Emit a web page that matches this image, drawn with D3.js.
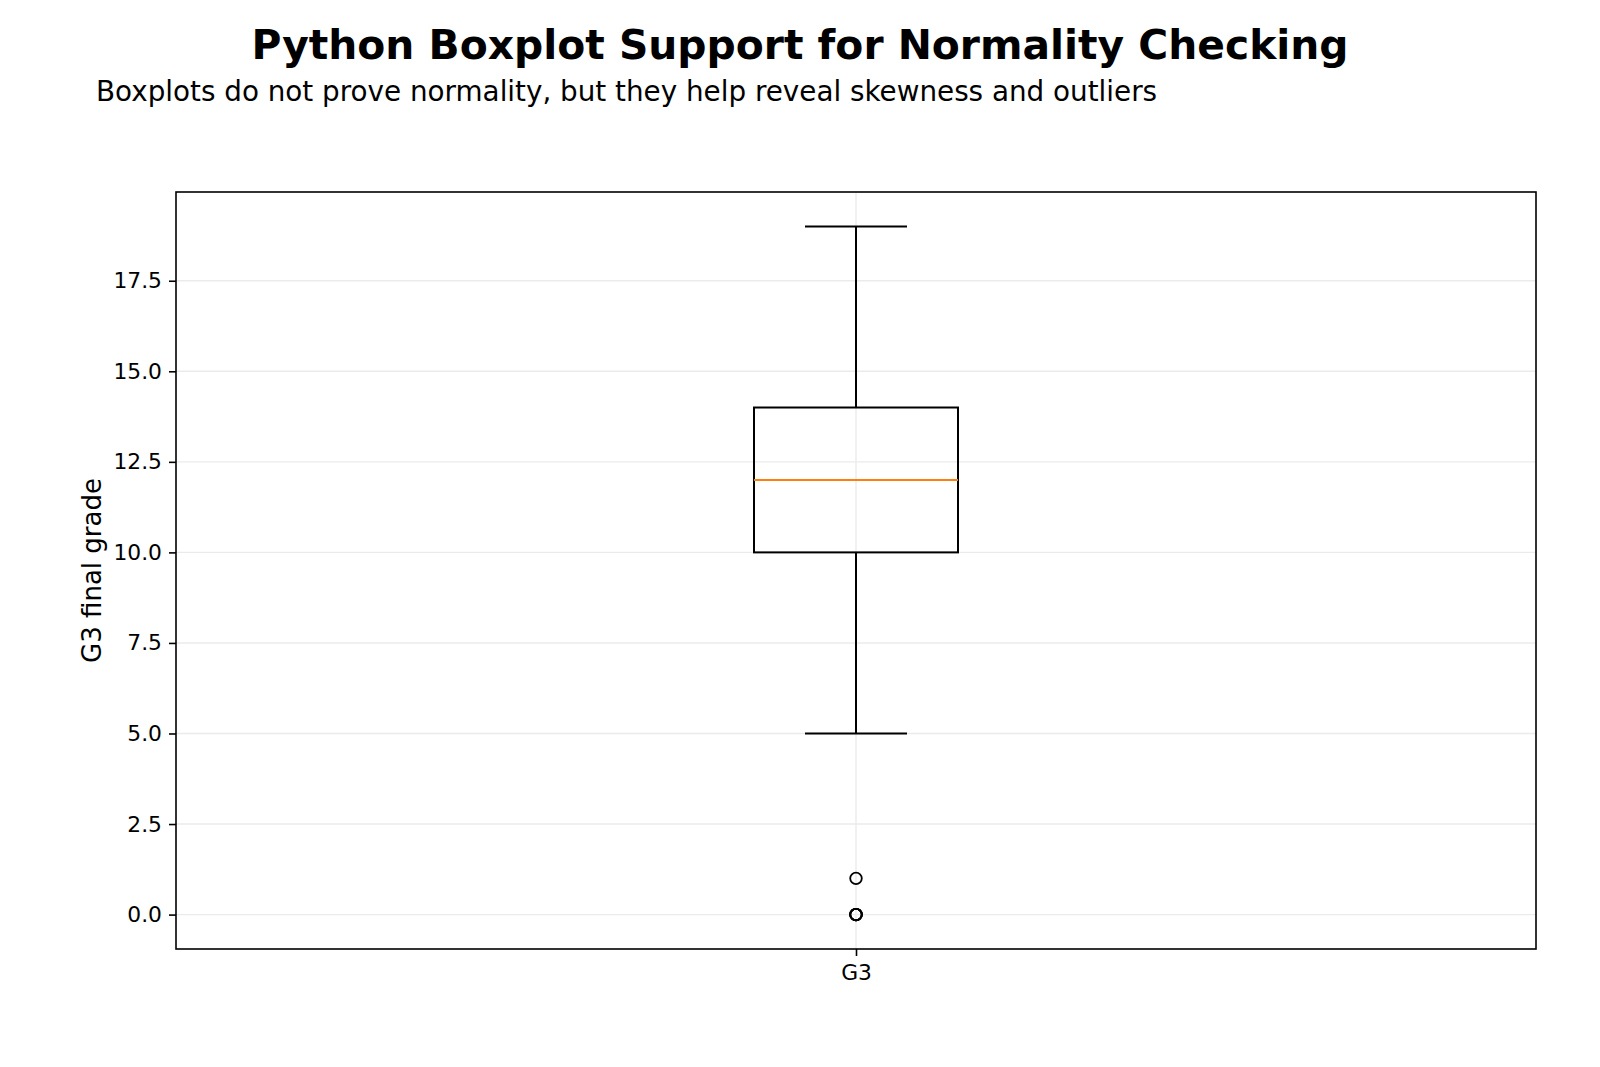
<!DOCTYPE html>
<html>
<head>
<meta charset="utf-8">
<script src="https://cdn.jsdelivr.net/npm/d3@7"></script>
<style>
    body { margin: 0; background: #fff; }
    svg { display: block; font-family: "DejaVu Sans", sans-serif; }
</style>
</head>
<body>
<svg id="chart" width="1600" height="1067"></svg>
<script>
// boxplot summary
const categories = ["G3"];
const whiskerLow = [5];
const q1 = [10];
const median = [12];
const q3 = [14];
const whiskerHigh = [19];
const outliers = [[0, 0, 0, 0, 1]];
const yTicks = [0, 2.5, 5, 7.5, 10, 12.5, 15, 17.5];

const svg = d3.select("#chart");

const margin = { left: 176, top: 192, right: 1536, bottom: 949 };

const y = d3.scaleLinear()
    .domain([-0.95, 19.95])
    .range([margin.bottom, margin.top]);

const x = d3.scaleLinear()
    .domain([0.5, categories.length + 0.5])
    .range([margin.left, margin.right]);

const boxW = x(0.5 + 0.15) - x(0.5);
const capW = boxW / 2;

// titles
svg.append("text")
    .attr("x", 800).attr("y", 59)
    .attr("text-anchor", "middle")
    .style("font-size", "40.8px").style("font-weight", "bold")
    .text("Python Boxplot Support for Normality Checking");

svg.append("text")
    .attr("x", 96).attr("y", 101)
    .style("font-size", "27.8px")
    .text("Boxplots do not prove normality, but they help reveal skewness and outliers");

// grid
const grid = svg.append("g").attr("stroke", "#ebebeb").attr("stroke-width", 1.4);
grid.selectAll("line.gy")
    .data(yTicks)
    .join("line")
    .attr("class", "gy")
    .attr("x1", margin.left).attr("x2", margin.right)
    .attr("y1", d => y(d)).attr("y2", d => y(d));
grid.selectAll("line.gx")
    .data(categories)
    .join("line")
    .attr("class", "gx")
    .attr("x1", (d, i) => x(i + 1)).attr("x2", (d, i) => x(i + 1))
    .attr("y1", margin.top).attr("y2", margin.bottom);

// axes
const yAxis = d3.axisLeft(y)
    .tickValues(yTicks)
    .tickFormat(d3.format(".1f"))
    .tickSize(7)
    .tickPadding(7);

const xAxis = d3.axisBottom(x)
    .tickValues(categories.map((d, i) => i + 1))
    .tickFormat((d, i) => categories[i])
    .tickSize(7)
    .tickPadding(9);

const ga = svg.append("g")
    .attr("transform", `translate(${margin.left},0)`)
    .call(yAxis);
const gb = svg.append("g")
    .attr("transform", `translate(0,${margin.bottom})`)
    .call(xAxis);

[ga, gb].forEach(g => {
    g.select(".domain").remove();
    g.selectAll(".tick line").attr("stroke", "#000").attr("stroke-width", 1.6);
    g.selectAll(".tick text")
        .attr("fill", "#000")
        .style("font-size", "21.8px")
        .style("font-family", "DejaVu Sans, sans-serif");
});

svg.append("text")
    .attr("transform", `translate(101,${(margin.top + margin.bottom) / 2}) rotate(-90)`)
    .attr("text-anchor", "middle")
    .style("font-size", "26px")
    .text("G3 final grade");

// boxes
const boxes = svg.append("g").selectAll("g.box")
    .data(categories)
    .join("g")
    .attr("class", "box");

boxes.each(function (d, i) {
    const g = d3.select(this);
    const cx = x(i + 1);

    g.append("line")
        .attr("x1", cx).attr("x2", cx)
        .attr("y1", y(q3[i])).attr("y2", y(whiskerHigh[i]))
        .attr("stroke", "#000").attr("stroke-width", 2);
    g.append("line")
        .attr("x1", cx).attr("x2", cx)
        .attr("y1", y(q1[i])).attr("y2", y(whiskerLow[i]))
        .attr("stroke", "#000").attr("stroke-width", 2);

    [whiskerLow[i], whiskerHigh[i]].forEach(v => {
        g.append("line")
            .attr("x1", cx - capW / 2).attr("x2", cx + capW / 2)
            .attr("y1", y(v)).attr("y2", y(v))
            .attr("stroke", "#000").attr("stroke-width", 2);
    });

    g.append("rect")
        .attr("x", cx - boxW / 2)
        .attr("y", y(q3[i]))
        .attr("width", boxW)
        .attr("height", y(q1[i]) - y(q3[i]))
        .attr("fill", "none")
        .attr("stroke", "#000").attr("stroke-width", 2);

    g.append("line")
        .attr("x1", cx - boxW / 2).attr("x2", cx + boxW / 2)
        .attr("y1", y(median[i])).attr("y2", y(median[i]))
        .attr("stroke", "#ff7f0e").attr("stroke-width", 2);

    g.selectAll("circle")
        .data(outliers[i])
        .join("circle")
        .attr("cx", cx)
        .attr("cy", v => y(v))
        .attr("r", 5.8)
        .attr("fill", "none")
        .attr("stroke", "#000")
        .attr("stroke-width", 1.8);
});

// frame
svg.append("rect")
    .attr("x", margin.left).attr("y", margin.top)
    .attr("width", margin.right - margin.left)
    .attr("height", margin.bottom - margin.top)
    .attr("fill", "none")
    .attr("stroke", "#000").attr("stroke-width", 1.6);
</script>
</body>
</html>
